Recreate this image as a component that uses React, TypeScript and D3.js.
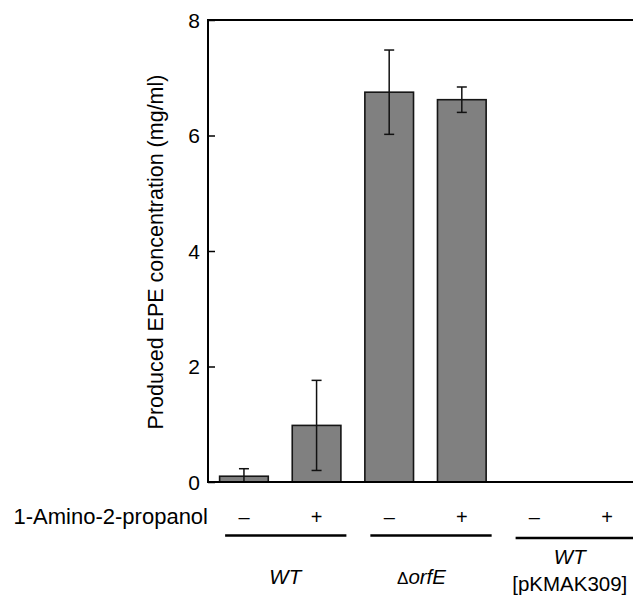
import React, { useEffect, useRef } from "react";
import * as d3 from "d3";

const conditions = ["WT-", "WT+", "orfE-", "orfE+", "pK-", "pK+"];
const signs = ["–", "+", "–", "+", "–", "+"];
const values = [0.1, 0.98, 6.75, 6.62, 0, 0];
const errors = [0.13, 0.78, 0.73, 0.22, 0, 0];
const yTicks = [0, 2, 4, 6, 8];

export default function App() {
  const chartRef = useRef<SVGSVGElement>(null);

  useEffect(() => {
    const svg = d3.select(chartRef.current);
    svg.selectAll("*").remove();

    const width = 633;
    const height = 596;
    const margin = { top: 20, left: 208, bottom: 482, right: 643 };
    const font = "'Liberation Sans', Arial, sans-serif";

    const x = d3
      .scaleBand()
      .domain(conditions)
      .range([margin.left, margin.right])
      .paddingInner(0.33)
      .paddingOuter(0.16);

    const y = d3.scaleLinear().domain([0, 8]).range([margin.bottom, margin.top]);

    svg.attr("width", width).attr("height", height);

    // bars
    svg
      .selectAll("rect.bar")
      .data(conditions.filter((c, i) => values[i] > 0))
      .enter()
      .append("rect")
      .attr("class", "bar")
      .attr("x", (d) => x(d)!)
      .attr("y", (d) => y(values[conditions.indexOf(d)]))
      .attr("width", x.bandwidth())
      .attr("height", (d) => y(0) - y(values[conditions.indexOf(d)]))
      .attr("fill", "#808080")
      .attr("stroke", "#151515")
      .attr("stroke-width", 1.6);

    // error bars
    const eb = svg.append("g").attr("stroke", "#111").attr("stroke-width", 1.5);
    values.forEach((v, i) => {
      if (errors[i] <= 0) return;
      const cx = x(conditions[i])! + x.bandwidth() / 2;
      const lo = Math.max(0, v - errors[i]);
      const hi = v + errors[i];
      eb.append("line").attr("x1", cx).attr("x2", cx).attr("y1", y(lo)).attr("y2", y(hi));
      eb.append("line").attr("x1", cx - 5).attr("x2", cx + 5).attr("y1", y(hi)).attr("y2", y(hi));
      if (v - errors[i] > 0)
        eb.append("line").attr("x1", cx - 5).attr("x2", cx + 5).attr("y1", y(lo)).attr("y2", y(lo));
    });

    // frame
    const frame = svg.append("g").attr("stroke", "#000").attr("stroke-width", 2).attr("fill", "none");
    frame.append("line").attr("x1", margin.left).attr("x2", margin.right).attr("y1", y(8)).attr("y2", y(8));
    frame.append("line").attr("x1", margin.left).attr("x2", margin.right).attr("y1", y(0)).attr("y2", y(0));
    frame.append("line").attr("x1", margin.left).attr("x2", margin.left).attr("y1", y(0) + 1).attr("y2", y(8) - 1);

    // y axis
    svg
      .append("g")
      .attr("transform", `translate(${margin.left},0)`)
      .call(d3.axisRight(y).tickValues(yTicks).tickSize(7).tickFormat(() => ""))
      .call((g) => g.select(".domain").remove())
      .call((g) => g.selectAll("line").attr("stroke-width", 1.5));

    svg
      .append("g")
      .selectAll("text")
      .data(yTicks)
      .enter()
      .append("text")
      .attr("x", margin.left - 8)
      .attr("y", (d) => y(d))
      .attr("dy", "0.36em")
      .attr("text-anchor", "end")
      .attr("font-family", font)
      .attr("font-size", 21)
      .text((d) => d);

    svg
      .append("text")
      .attr("transform", `translate(163,${(y(0) + y(8)) / 2 + 1}) rotate(-90)`)
      .attr("text-anchor", "middle")
      .attr("font-family", font)
      .attr("font-size", 21.5)
      .text("Produced EPE concentration (mg/ml)");

    // treatment row
    svg
      .append("text")
      .attr("x", 208)
      .attr("y", 524)
      .attr("text-anchor", "end")
      .attr("font-family", font)
      .attr("font-size", 22)
      .text("1-Amino-2-propanol");

    svg
      .append("g")
      .selectAll("text")
      .data(conditions)
      .enter()
      .append("text")
      .attr("x", (d) => x(d)! + x.bandwidth() / 2)
      .attr("y", 524)
      .attr("text-anchor", "middle")
      .attr("font-family", font)
      .attr("font-size", 20)
      .text((d, i) => signs[i]);

    // group lines and labels
    const groups = [
      { from: 0, to: 1, ly: 535.5 },
      { from: 2, to: 3, ly: 535.5 },
      { from: 4, to: 5, ly: 538 },
    ];
    groups.forEach((gr) => {
      const x0 = x(conditions[gr.from])! + 5.5;
      const x1 = x(conditions[gr.to])! + x.bandwidth() + 5.5;
      svg
        .append("line")
        .attr("x1", x0)
        .attr("x2", x1)
        .attr("y1", gr.ly)
        .attr("y2", gr.ly)
        .attr("stroke", "#000")
        .attr("stroke-width", 2.5);
    });

    const c = (i: number) => (x(conditions[i])! + x(conditions[i + 1])! + x.bandwidth()) / 2;

    svg
      .append("text")
      .attr("x", c(0) + 5)
      .attr("y", 584)
      .attr("text-anchor", "middle")
      .attr("font-family", font)
      .attr("font-style", "italic")
      .attr("font-size", 20.5)
      .text("WT");

    const orf = svg
      .append("text")
      .attr("x", c(2) - 4)
      .attr("y", 584)
      .attr("text-anchor", "middle")
      .attr("font-family", font)
      .attr("font-size", 20.5);
    orf.append("tspan").attr("font-size", 17).text("Δ");
    orf.append("tspan").attr("font-style", "italic").text("orfE");

    svg
      .append("text")
      .attr("x", c(4) - 1)
      .attr("y", 564)
      .attr("text-anchor", "middle")
      .attr("font-family", font)
      .attr("font-style", "italic")
      .attr("font-size", 20.5)
      .text("WT");

    svg
      .append("text")
      .attr("x", c(4) - 1)
      .attr("y", 591)
      .attr("text-anchor", "middle")
      .attr("font-family", font)
      .attr("font-size", 20.5)
      .text("[pKMAK309]");
  }, []);

  return (
    <svg
      ref={chartRef}
      style={{ position: "absolute", left: 0, top: 0, background: "#fff" }}
    />
  );
}
